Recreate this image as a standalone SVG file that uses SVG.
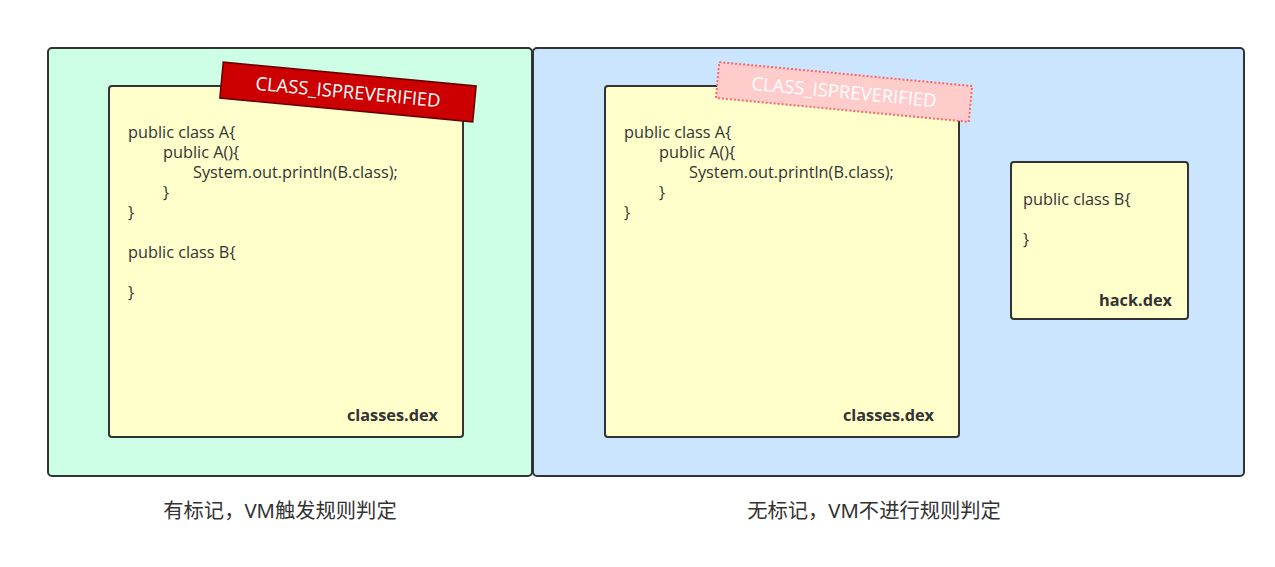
<svg xmlns="http://www.w3.org/2000/svg" width="1275" height="567" viewBox="0 0 1275 567">
<style>
.panel{stroke:#333;stroke-width:2}
.card{fill:#ffffcc;stroke:#333;stroke-width:2}
.code{font-family:"Open Sans","Noto Sans",sans-serif;font-size:16.3px;fill:#333}
.file{font-family:"Open Sans","Noto Sans",sans-serif;font-size:16.3px;font-weight:bold;fill:#333;text-anchor:end}
.tag{font-family:"Open Sans","Noto Sans",sans-serif;font-size:18.5px;fill:#fff;text-anchor:middle}
.cap{font-family:"Noto Sans","Noto Sans CJK SC",sans-serif;font-size:20.3px;fill:#333;text-anchor:middle}
</style>
<rect width="1275" height="567" fill="#fff"/>
<g id="panel-left">
<rect class="panel" x="48" y="48" width="484" height="428" rx="4" fill="#ccffe6"/>
</g>
<g id="panel-right">
<rect class="panel" x="533" y="48" width="711" height="428" rx="4" fill="#cce5ff"/>
</g>
<g id="card-left">
<rect class="card" x="109" y="86" width="354" height="351" rx="3"/>
<text class="code" x="128" y="138">public class A{</text>
<text class="code" x="163" y="158">public A(){</text>
<text class="code" x="193" y="178">System.out.println(B.class);</text>
<text class="code" x="163" y="198">}</text>
<text class="code" x="128" y="218">}</text>
<text class="code" x="128" y="258">public class B{</text>
<text class="code" x="128" y="298">}</text>
<text class="file" x="438" y="421">classes.dex</text>
</g>
<g id="tag-left" transform="translate(348,92) rotate(5.4)">
<rect x="-127" y="-18" width="254" height="36" fill="#cc0000" stroke="#660000" stroke-width="1.5"/>
<text class="tag" x="0" y="6.5">CLASS_ISPREVERIFIED</text>
</g>
<g id="card-right">
<rect class="card" x="605" y="86" width="354" height="351" rx="3"/>
<text class="code" x="624" y="138">public class A{</text>
<text class="code" x="659" y="158">public A(){</text>
<text class="code" x="689" y="178">System.out.println(B.class);</text>
<text class="code" x="659" y="198">}</text>
<text class="code" x="624" y="218">}</text>
<text class="file" x="934" y="421">classes.dex</text>
</g>
<g id="tag-right" transform="translate(844,92) rotate(5.4)">
<rect x="-127" y="-18" width="254" height="36" fill="#ffcccc" stroke="#ff6666" stroke-width="2" stroke-dasharray="2,2"/>
<text class="tag" x="0" y="6.5">CLASS_ISPREVERIFIED</text>
</g>
<g id="card-hack">
<rect class="card" x="1011" y="162" width="177" height="157" rx="3"/>
<text class="code" x="1023" y="205">public class B{</text>
<text class="code" x="1023" y="245">}</text>
<text class="file" x="1172" y="306">hack.dex</text>
</g>
<g id="connectors"></g>
<g id="captions">
<text class="cap" x="280" y="518">有标记，VM触发规则判定</text>
<text class="cap" x="874" y="518">无标记，VM不进行规则判定</text>
</g>
</svg>
